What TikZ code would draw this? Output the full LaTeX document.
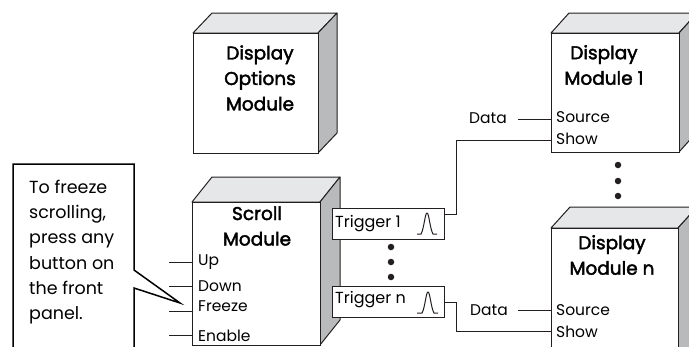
\documentclass[tikz,border=0pt]{standalone}
\usepackage{fontspec}
\setmainfont{Poppins}
\newfontfamily\titlefont[FakeBold=2.2]{Poppins}
\usetikzlibrary{calc,positioning}
\definecolor{sidegray}{HTML}{B9BABC}
\definecolor{topgray}{HTML}{E6E7E8}
\definecolor{inkline}{HTML}{231F20}
\newcommand{\moduleblock}[7]{
  \path[draw=inkline, fill=topgray, line width=1pt, line join=round] (#2,#3) -- ++(#6,-#7) -- ++(#4,0) -- ++(-#6,#7) -- cycle;
  \path[draw=inkline, fill=sidegray, line width=1pt, line join=round] (#2+#4,#3) -- ++(#6,-#7) -- ++(0,#5) -- ++(-#6,#7) -- cycle;
  \node (#1) [modulebox, minimum width=#4pt, minimum height=#5pt] at (#2,#3) {};
}
\begin{document}
\begin{tikzpicture}[
    x=1pt, y=-1pt,
    nosep/.style={inner sep=0},
    modulebox/.style={draw=inkline, fill=white, line width=1pt, anchor=north west, nosep},
    title/.style={nosep, align=center, text=black, font=\titlefont\fontsize{18.5}{25.5}\selectfont},
    port/.style={nosep, anchor=west, text=black, font=\fontsize{15.5}{16}\selectfont},
    triggerlabel/.style={port, font=\fontsize{16}{16}\selectfont},
    triggerbox/.style={draw=inkline, fill=white, line width=1pt, anchor=north west, nosep, minimum width=112pt, minimum height=31pt},
    wire/.style={draw=inkline, line width=1pt},
    dotmark/.style={circle, fill=inkline, nosep, minimum size=6.5pt}]
\useasboundingbox (0,0) rectangle (689,346);

% modules
\moduleblock{optmod}{193}{33}{125}{120}{19}{20}
\moduleblock{scrollmod}{192}{202}{128}{143}{20}{25}
\moduleblock{dispone}{551}{33}{128}{119}{18}{20}
\moduleblock{dispn}{551}{228}{127}{140}{19}{21}

\node (optlabel) [title] at (260,78) {Display\\Options\\Module};
\node (scrolllabel) [title] at (257,226) {Scroll\\Module};
\node (disponelabel) [title] at (604,65) {Display\\Module 1};
\node (dispnlabel) [title] at (612,255) {Display\\Module n};

% triggers
\node (trigone) [triggerbox] at (332,208) {};
\node (trign) [triggerbox] at (332,286) {};
\node (trigonetext) [triggerlabel] at (335,224) {Trigger 1};
\node (trigntext) [triggerlabel] at (335,300) {Trigger n};
\draw[wire] (417,234) -- (421,234) .. controls (424,229) and (425,213) .. (427,213) .. controls (429,213) and (430,229) .. (433,234) -- (437,234);
\draw[wire] (417,313) -- (422,313) .. controls (425,308) and (426,292) .. (428,292) .. controls (430,292) and (431,308) .. (434,313) -- (438,313);

\node (dota) [dotmark] at (391,247) {};
\node (dotb) [dotmark] at (391,262) {};
\node (dotc) [dotmark] at (391,277) {};
\node (dotd) [dotmark] at (618,165) {};
\node (dote) [dotmark] at (618,181) {};
\node (dotf) [dotmark] at (618,196) {};

% ports on the scroll module
\node (up) [port] at (198,262) {Up};
\node (down) [port] at (198,286) {Down};
\node (freeze) [port] at (198,306) {Freeze};
\node (enable) [port] at (198,336) {Enable};
\coordinate (upin) at (169,262);
\coordinate (downin) at (169,286);
\coordinate (freezein) at (169,311);
\coordinate (enablein) at (169,335);
\path[wire] (upin) -- (upin -| scrollmod.west);
\path[wire] (downin) -- (downin -| scrollmod.west);
\path[wire] (freezein) -- (freezein -| scrollmod.west);
\path[wire] (enablein) -- (enablein -| scrollmod.west);

% ports on the display modules
\node (srcone) [port] at (556,117) {Source};
\node (showone) [port] at (556,139) {Show};
\node (srcn) [port] at (556,310) {Source};
\node (shown) [port] at (556,332) {Show};
\node (dataone) [port, anchor=center] at (488,118) {Data};
\node (datan) [port, anchor=center] at (489,310) {Data};
\coordinate (dataoneend) at (518,119.5);
\coordinate (datanend) at (518,310);
\path[wire] (dataoneend) -- (dataoneend -| dispone.west);
\path[wire] (datanend) -- (datanend -| dispn.west);

% trigger wires
\path[wire] ([yshift=10pt]trigone.east) -| (456,140) -- (dispone.west |- 0,140);
\path[wire] ([yshift=0pt]trign.east) -| (456,331) -- (dispn.west |- 0,331);

% callout
\draw[draw=black, line width=1.5pt, line join=miter] (13,347) -- (13,164) -- (134,164) -- (134,270) -- (180,303) -- (134,288) -- (134,347);
\node (note) [nosep, anchor=north west, align=left, text=black, font=\fontsize{17.5}{25.2}\selectfont] at (29,180) {To freeze\\scrolling,\\press any\\button on\\the front\\panel.};

\end{tikzpicture}
\end{document}
